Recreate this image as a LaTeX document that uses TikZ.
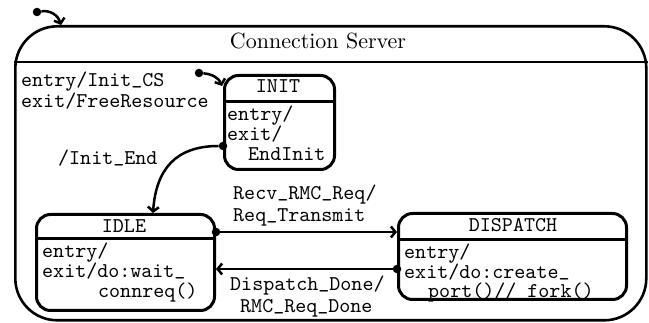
\documentclass[tikz,border=0pt]{standalone}
\usetikzlibrary{arrows.meta}
% 10pt design sizes of Latin Modern, used at every size
\DeclareFontFamily{TU}{lmttten}{}
\DeclareFontShape{TU}{lmttten}{m}{n}{<-> \UnicodeFontFile{lmmono10-regular}{}}{}
\DeclareFontFamily{TU}{lmrten}{}
\DeclareFontShape{TU}{lmrten}{m}{n}{<-> \UnicodeFontFile{lmroman10-regular}{}}{}
% underscore sitting on the baseline
\newcommand\usc{\raisebox{0.12em}{\_}}
\begin{document}
\begin{tikzpicture}[x=1pt,y=-1pt,
  tt/.style={font=\fontfamily{lmttten}\fontsize{21}{21}\selectfont, inner sep=0pt, anchor=base west},
  statebox/.style={draw, line width=3pt, rounded corners=14pt, inner sep=0pt, anchor=north west},
  dotn/.style={circle, fill, inner sep=0pt, minimum size=8.5pt},
  trans/.style={line width=2.5pt, -{Straight Barb[length=4.5pt,width=11pt]}}]
\useasboundingbox (0,0) rectangle (649,323);

% composite state
\node[draw, line width=2.6pt, rounded corners=42pt, inner sep=0pt, anchor=north west,
      minimum width=631pt, minimum height=294pt] (cs) at (14,25) {};
\draw[line width=2.6pt] (cs.west |- 0,62) -- (cs.east |- 0,62);
\node[font=\fontfamily{lmrten}\fontsize{22}{22}\selectfont, inner sep=0pt, anchor=base] (title) at (318,49) {Connection Server};
\node[tt] (csentry) at (21,87) {entry/Init\usc CS};
\node[tt] (csexit) at (21,108) {exit/FreeResource};

% INIT
\node[statebox, minimum width=110pt, minimum height=94pt] (init) at (223,74) {};
\draw[line width=3pt] (init.west |- 0,102) -- (init.east |- 0,102);
\node[tt, anchor=base] (initname) at (278,93) {INIT};
\node[tt] (initentry) at (227,121) {entry/};
\node[tt] (initexit) at (227,141) {exit/};
\node[tt] (initend) at (248,161) {EndInit};

% IDLE
\node[statebox, minimum width=178pt, minimum height=96pt] (idle) at (35,213) {};
\draw[line width=3pt] (idle.west |- 0,239) -- (idle.east |- 0,239);
\node[tt, anchor=base] (idlename) at (124,233) {IDLE};
\node[tt] (idleentry) at (42,258) {entry/};
\node[tt] (idleexit) at (42,278) {exit/do:wait\usc};
\node[tt] (idleconn) at (98,298) {connreq()};

% DISPATCH
\node[statebox, minimum width=228pt, minimum height=86pt] (disp) at (397,212) {};
\draw[line width=3pt] (disp.west |- 0,240) -- (disp.east |- 0,240);
\node[tt, anchor=base] (dispname) at (513,232) {DISPATCH};
\node[tt] (dispentry) at (404,259) {entry/};
\node[tt] (dispexit) at (404,279) {exit/do:create\usc};
\node[tt] (dispport) at (428,298) {port()// fork()};

% initial pseudostates
\node[dotn] (i0) at (37,12) {};
\coordinate (i0end) at (61,25);
\draw[trans] (i0) .. controls (50,10) and (58,15) .. (i0end);
\node[dotn] (i1) at (199,73) {};
\coordinate (i1end) at (222,86);
\draw[trans] (i1) .. controls (212,74) and (219,78) .. (i1end);

% INIT -> IDLE
\node[dotn] (d1) at (init.west |- 0,146) {};
\coordinate (idletop) at (153,213);
\draw[trans] (d1) .. controls (175,146) and (156,170) .. (idletop);
\node[tt] (lab1) at (58,165) {/Init\usc End};

% IDLE -> DISPATCH
\node[dotn] (d2) at (idle.east |- 0,232) {};
\draw[trans] (d2) -- (disp.west |- d2);
\node[tt] (lab2a) at (233,200) {Recv\usc RMC\usc Req/};
\node[tt] (lab2b) at (233,222) {Req\usc Transmit};

% DISPATCH -> IDLE
\node[dotn] (d3) at (disp.west |- 0,269) {};
\draw[trans] (d3) -- (idle.east |- d3);
\node[tt] (lab3a) at (230,291) {Dispatch\usc Done/};
\node[tt] (lab3b) at (240,313) {RMC\usc Req\usc Done};
\end{tikzpicture}
\end{document}
